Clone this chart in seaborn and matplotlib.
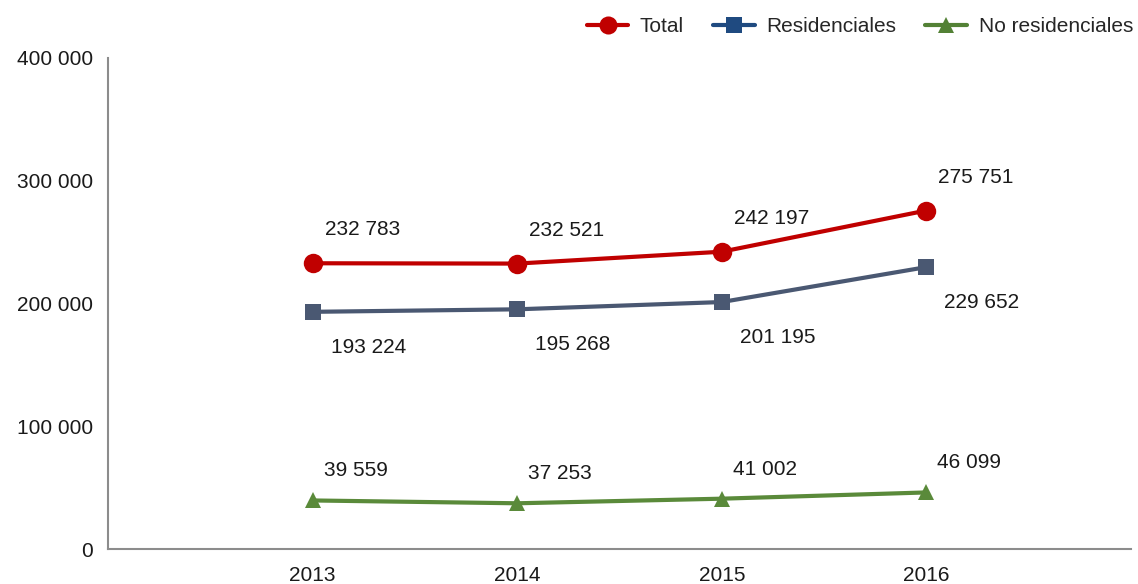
import matplotlib
matplotlib.use("Agg")
import matplotlib.pyplot as plt
from matplotlib.lines import Line2D
import seaborn as sns
import pandas as pd

years = [2013, 2014, 2015, 2016]
total = [232783, 232521, 242197, 275751]
residenciales = [193224, 195268, 201195, 229652]
no_residenciales = [39559, 37253, 41002, 46099]
series_names = ["Total", "Residenciales", "No residenciales"]
y_ticks = [0, 100000, 200000, 300000, 400000]

line_colors = {"Total": "#C00000", "Residenciales": "#4A5872", "No residenciales": "#5A8A3A"}
legend_colors = {"Total": "#C00000", "Residenciales": "#1F4A80", "No residenciales": "#538135"}
marker_map = {"Total": "o", "Residenciales": "s", "No residenciales": "^"}
marker_size = {"Total": 14, "Residenciales": 12, "No residenciales": 12}
label_offsets = {"Total": (12, 24, "bottom"), "Residenciales": (18, -26, "top"),
                 "No residenciales": (11, 20, "bottom")}
FS = 15

df = pd.DataFrame({
    "year": years * 3,
    "value": total + residenciales + no_residenciales,
    "serie": [s for s in series_names for _ in years],
})

sns.set_theme(style="white")
plt.rcParams["font.family"] = ["Liberation Sans", "DejaVu Sans"]

fig = plt.figure(figsize=(11.38, 5.84), dpi=100)
ax = fig.add_axes([0.0949, 0.0599, 0.8989, 0.8408])

for name in series_names:
    sub = df[df["serie"] == name]
    sns.lineplot(data=sub, x="year", y="value", ax=ax, color=line_colors[name],
                 marker=marker_map[name], markersize=marker_size[name],
                 markeredgewidth=0, linewidth=3, legend=False)
    dx, dy, va = label_offsets[name]
    for x, v in zip(sub["year"], sub["value"]):
        ax.annotate(f"{v:,}".replace(",", " "), (x, v), xytext=(dx, dy),
                    textcoords="offset pixels", ha="left", va=va, fontsize=FS,
                    color="#1A1A1A")

ax.set_xlim(2012, 2017)
ax.set_ylim(0, 400000)
ax.set_xticks([2012] + years + [2017])
ax.set_xticklabels([""] + [str(y) for y in years] + [""])
ax.set_yticks(y_ticks)
ax.set_yticklabels([f"{t:,}".replace(",", " ") for t in y_ticks])
ax.set_xlabel("")
ax.set_ylabel("")

for side in ["top", "right"]:
    ax.spines[side].set_visible(False)
for side in ["left", "bottom"]:
    ax.spines[side].set_color("#8C8C8C")
    ax.spines[side].set_linewidth(1.5)
ax.tick_params(axis="both", which="major", direction="out", length=4, width=1.5,
               color="#8C8C8C", labelsize=FS, labelcolor="#1A1A1A")
ax.tick_params(axis="x", pad=8.5)
ax.tick_params(axis="y", pad=7)

handles = [Line2D([0], [0], color=legend_colors[n], marker=marker_map[n], lw=3,
                  markersize=marker_size[n] - 1, markeredgewidth=0) for n in series_names]
fig.legend(handles, series_names, loc="upper right", bbox_to_anchor=(1.012, 1.003),
           ncol=3, frameon=False, fontsize=FS, handlelength=2.0, columnspacing=1.4,
           handletextpad=0.55)

fig.savefig("out.png", dpi=100)
